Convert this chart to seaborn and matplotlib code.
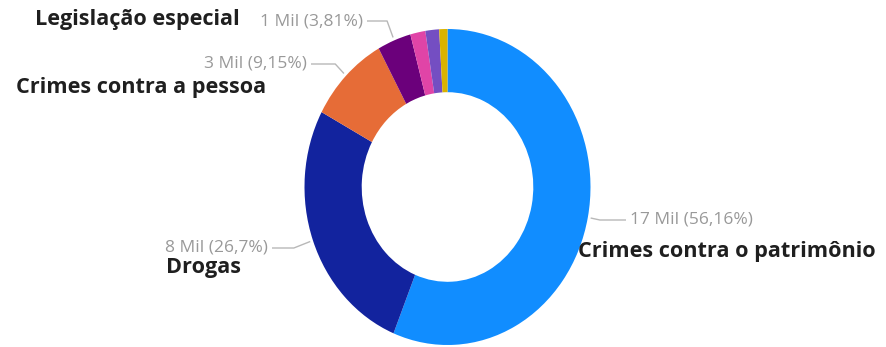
import matplotlib
matplotlib.use("Agg")
import matplotlib.pyplot as plt
import seaborn as sns
import numpy as np

# ---- data ----
categories = ["Crimes contra o patrimônio", "Drogas", "Crimes contra a pessoa",
              "Legislação especial", "Outros A", "Outros B", "Outros C"]
shares = [56.16, 26.7, 9.15, 3.81, 1.7, 1.55, 0.93]
value_labels = ["17 Mil", "8 Mil", "3 Mil", "1 Mil", None, None, None]
pct_labels = ["56,16%", "26,7%", "9,15%", "3,81%", None, None, None]
colors = ["#118DFF", "#12239E", "#E66C37", "#6B007B", "#E044A7", "#744EC2", "#D9B300"]

sns.set_theme(style="white")
plt.rcParams['font.family'] = ['Open Sans', 'DejaVu Sans']

W, H = 886, 347
CX, CY, RX, RY = 447.5, 187, 143, 158

fig = plt.figure(figsize=(W / 100, H / 100), dpi=100)
ax = fig.add_axes([0, 0, 1, 1])
wedges, _ = ax.pie(shares, colors=colors, startangle=90, counterclock=False,
                   radius=1, wedgeprops=dict(width=0.4, linewidth=0))
ax.set_aspect('auto')
ax.set_xlim(-CX / RX, (W - CX) / RX)
ax.set_ylim(-(H - CY) / RY, CY / RY)
ax.axis('off')


def to_data(x, y):
    return (x - CX) / RX, (CY - y) / RY


# label layout in pixels: (value text x, y, ha, line end x, category x, category y)
layout = {
    0: (630, 220, 'left', 626, 578, 251),
    1: (268, 248, 'right', 272, 166, 268),
    2: (307, 64, 'right', 311, 16, 87),
    3: (363, 21, 'right', 367, 35, 20),
}

gray = "#999999"
for i, w in enumerate(wedges):
    if value_labels[i] is None:
        continue
    vx, vy, ha, lx, cxp, cyp = layout[i]
    ang = np.deg2rad((w.theta1 + w.theta2) / 2)
    c, s = np.cos(ang), np.sin(ang)
    p0 = (1.02 * c, 1.02 * s)
    _, ly = to_data(0, vy)
    r_el = ly / s
    p1 = (r_el * c, ly)
    lxd, _ = to_data(lx, 0)
    ax.plot([p0[0], p1[0], lxd], [p0[1], p1[1], ly], color="#b8b8b8", lw=1,
            solid_capstyle='butt')
    tx, ty = to_data(vx, vy)
    ax.text(tx, ty, f"{value_labels[i]} ({pct_labels[i]})", ha=ha, va='center',
            fontsize=12.5, color=gray)
    kx, ky = to_data(cxp, cyp)
    ax.text(kx, ky, categories[i], ha='left', va='center', fontsize=15.6,
            fontweight='bold', color="#1f1f1f")

fig.savefig("out.png", dpi=100, facecolor="white")
